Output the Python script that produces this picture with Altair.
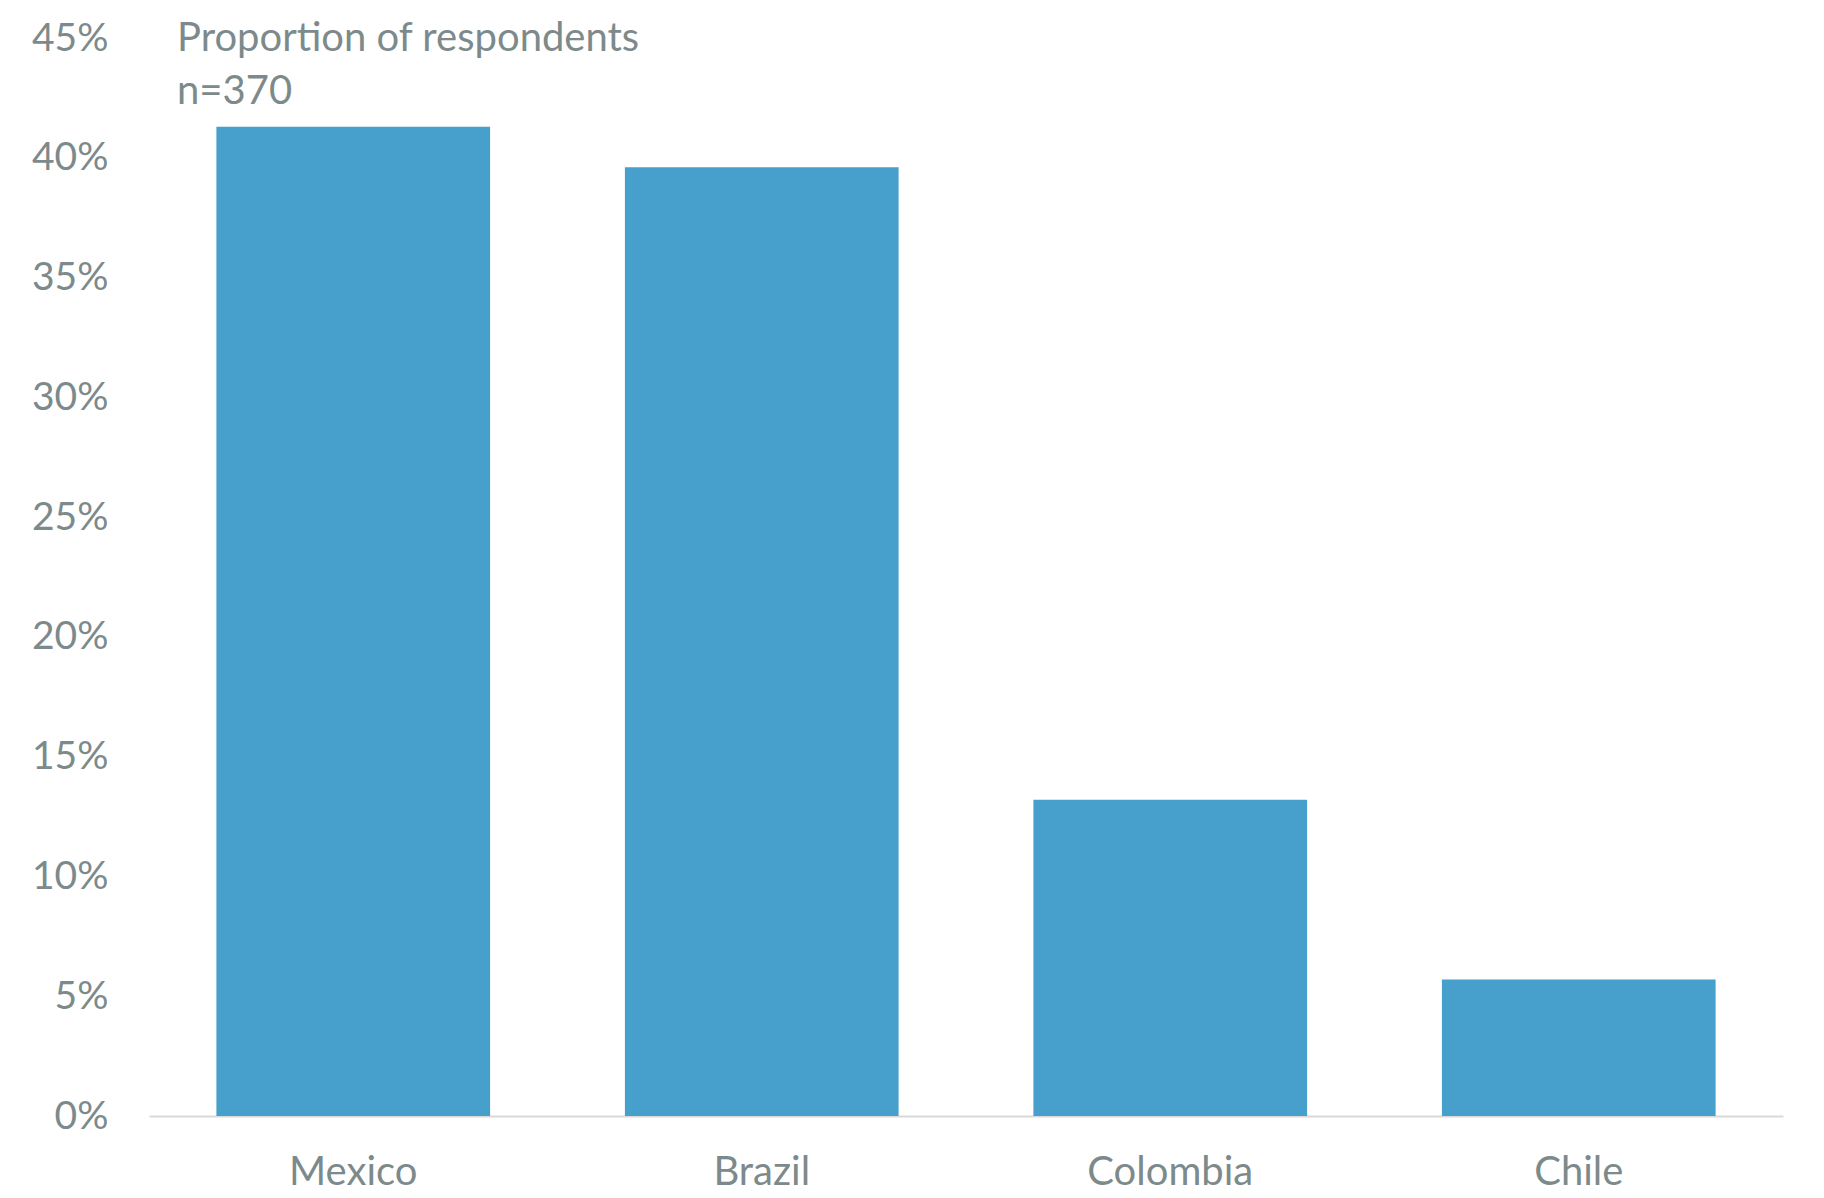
import altair as alt
import pandas as pd

countries = ["Mexico", "Brazil", "Colombia", "Chile"]
shares = [41.3, 39.6, 13.2, 5.7]
y_ticks = [0, 5, 10, 15, 20, 25, 30, 35, 40, 45]
note_lines = ["Proportion of respondents", "n=370"]

df = pd.DataFrame({"country": countries, "share": shares})

TEXT = "#7d8a8b"
BAR = "#479fcb"
FONT = "Lato"

bars = alt.Chart(df).mark_bar(color=BAR).encode(
    x=alt.X("country:N", sort=countries,
            scale=alt.Scale(paddingInner=0.33, paddingOuter=0.165),
            axis=alt.Axis(title=None, labelAngle=0, labelFontSize=40, labelColor=TEXT,
                          labelFont=FONT, ticks=False, tickSize=0, labelPadding=36,
                          domainColor="#d9d9d9", domainWidth=2, grid=False)),
    y=alt.Y("share:Q", scale=alt.Scale(domain=[0, 45], nice=False),
            axis=alt.Axis(title=None, values=y_ticks, labelExpr="datum.value + '%'",
                          labelFontSize=39, labelColor=TEXT, labelFont=FONT,
                          ticks=False, tickSize=0, labelPadding=41, domain=False,
                          grid=False)),
)

note1 = alt.Chart(pd.DataFrame({"line": [note_lines[0]]})).mark_text(
    align="left", baseline="alphabetic", fontSize=40, font=FONT, color=TEXT
).encode(x=alt.value(28), y=alt.value(13), text="line:N")
note2 = alt.Chart(pd.DataFrame({"line": [note_lines[1]]})).mark_text(
    align="left", baseline="alphabetic", fontSize=40, font=FONT, color=TEXT
).encode(x=alt.value(28), y=alt.value(66), text="line:N")

chart = alt.layer(bars, note1, note2).properties(
    width=1634, height=1078,
    autosize=alt.AutoSizeParams(type="none"),
    padding={"left": 149, "top": 38, "right": 41, "bottom": 82},
    background="white",
).configure_view(stroke=None)

chart.save("out.html", embed_options={"renderer": "svg", "actions": False})
